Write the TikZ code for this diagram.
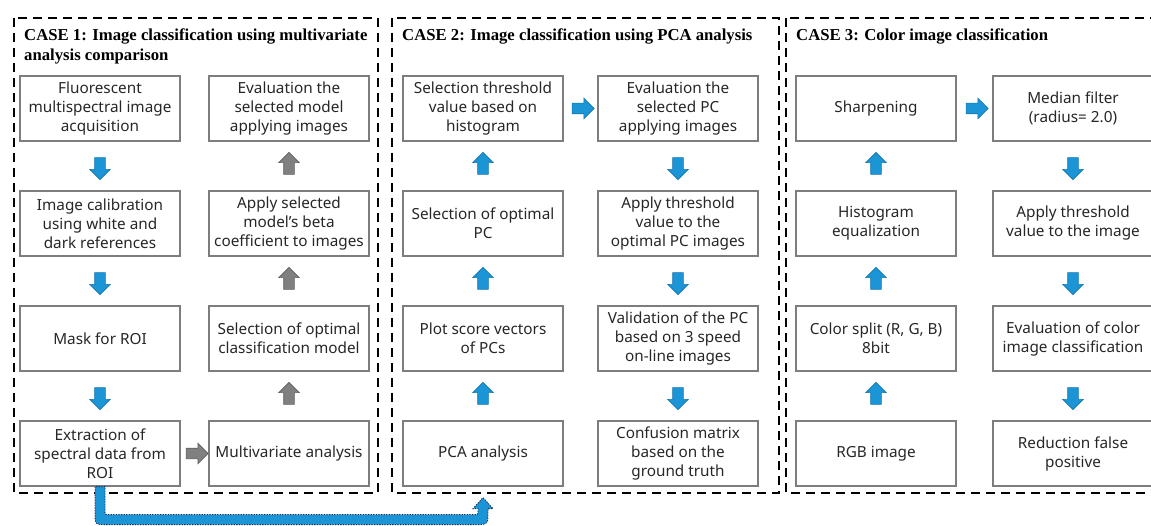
\documentclass[tikz,border=0pt]{standalone}
\usepackage{fontspec}
\setmainfont{Noto Sans}
\newfontfamily\titlefont{Liberation Serif}
\usetikzlibrary{shapes.arrows,calc}
\definecolor{arrblue}{RGB}{27,149,214}
\definecolor{arrblueD}{RGB}{22,118,175}
\definecolor{arrgray}{RGB}{128,128,128}
\definecolor{boxgray}{RGB}{125,125,125}
\definecolor{dotnavy}{RGB}{25,45,90}
\tikzset{
  stepbox/.style={draw=boxgray, line width=1.3pt, minimum width=160pt, minimum height=65pt,
    align=center, inner sep=0pt, text=black!85, font=\fontsize{15.3}{19}\selectfont},
  casebox/.style={draw=black, line width=2.6pt, dash pattern=on 9pt off 6pt},
  blk/.style={single arrow, minimum width=20pt, single arrow head extend=5pt,
    minimum height=22pt, inner xsep=0pt, inner ysep=5pt, line width=0.6pt},
  bluearr/.style={blk, fill=arrblue, draw=arrblueD},
  grayarr/.style={blk, fill=arrgray, draw=arrgray!75!black},
  casetitle/.style={anchor=base west, inner sep=0pt, align=left,
    font=\titlefont\bfseries\fontsize{16.7}{19.5}\selectfont},
  conn/.style={fill=arrblue, draw=dotnavy, line width=0.9pt, dash pattern=on 1.3pt off 1.3pt},
}
\begin{document}
\begin{tikzpicture}[x=1pt,y=-1pt]
\useasboundingbox (0,0) rectangle (1151,526);
\clip (0,0) rectangle (1151,526);

% case frames
\draw[casebox] (14,18) rectangle (378,493);
\draw[casebox] (392,18) rectangle (779,493);
\draw[casebox] (786,18) rectangle (1165,493);

% titles (base anchor = baseline of last line)
\node[casetitle] (t1) at (24,60.5) {CASE 1: Image classification using multivariate\\analysis comparison};
\node[casetitle] (t2) at (402,41) {CASE 2: Image classification using PCA analysis};
\node[casetitle] (t3) at (796,41) {CASE 3: Color image classification};

% CASE 1 boxes
\node[stepbox] (c1l1) at (100,108.5) {Fluorescent\\multispectral image\\acquisition};
\node[stepbox] (c1l2) at (100,223.5) {Image calibration\\using white and\\dark references};
\node[stepbox] (c1l3) at (100,338.5) {Mask for ROI};
\node[stepbox] (c1l4) at (100,453.5) {Extraction of\\spectral data from\\ROI};
\node[stepbox] (c1r1) at (289,108.5) {Evaluation the\\selected model\\applying images};
\node[stepbox] (c1r2) at (289,223.5) {Apply selected\\model's beta\\coefficient to images};
\node[stepbox] (c1r3) at (289,338.5) {Selection of optimal\\classification model};
\node[stepbox] (c1r4) at (289,453.5) {Multivariate analysis};

% CASE 2 boxes
\node[stepbox] (c2l1) at (483,108.5) {Selection threshold\\value based on\\histogram};
\node[stepbox] (c2l2) at (483,223.5) {Selection of optimal\\PC};
\node[stepbox] (c2l3) at (483,338.5) {Plot score vectors\\of PCs};
\node[stepbox] (c2l4) at (483,453.5) {PCA analysis};
\node[stepbox] (c2r1) at (678,108.5) {Evaluation the\\selected PC\\applying images};
\node[stepbox] (c2r2) at (678,223.5) {Apply threshold\\value to the\\optimal PC images};
\node[stepbox] (c2r3) at (678,338.5) {Validation of the PC\\based on 3 speed\\on-line images};
\node[stepbox] (c2r4) at (678,453.5) {Confusion matrix\\based on the\\ground truth};

% CASE 3 boxes
\node[stepbox] (c3l1) at (876,108.5) {Sharpening};
\node[stepbox] (c3l2) at (876,223.5) {Histogram\\equalization};
\node[stepbox] (c3l3) at (876,338.5) {Color split (R, G, B)\\8bit};
\node[stepbox] (c3l4) at (876,453.5) {RGB image};
\node[stepbox] (c3r1) at (1073,108.5) {Median filter\\(radius= 2.0)};
\node[stepbox] (c3r2) at (1073,223.5) {Apply threshold\\value to the image};
\node[stepbox] (c3r3) at (1073,338.5) {Evaluation of color\\image classification};
\node[stepbox] (c3r4) at (1073,453.5) {Reduction false\\positive};

% CASE 1 arrows
\node[bluearr, rotate=-90] (a1d1) at ($(c1l1.south)!0.5!(c1l2.north)$) {};
\node[bluearr, rotate=-90] (a1d2) at ($(c1l2.south)!0.5!(c1l3.north)$) {};
\node[bluearr, rotate=-90] (a1d3) at ($(c1l3.south)!0.5!(c1l4.north)$) {};
\node[grayarr] (a1h) at ($(c1l4.east)!0.5!(c1r4.west)$) {};
\node[grayarr, rotate=90] (a1u3) at ($(c1r4.north)!0.5!(c1r3.south)$) {};
\node[grayarr, rotate=90] (a1u2) at ($(c1r3.north)!0.5!(c1r2.south)$) {};
\node[grayarr, rotate=90] (a1u1) at ($(c1r2.north)!0.5!(c1r1.south)$) {};

% CASE 2 arrows
\node[bluearr, rotate=90] (a2u3) at ($(c2l4.north)!0.5!(c2l3.south)$) {};
\node[bluearr, rotate=90] (a2u2) at ($(c2l3.north)!0.5!(c2l2.south)$) {};
\node[bluearr, rotate=90] (a2u1) at ($(c2l2.north)!0.5!(c2l1.south)$) {};
\node[bluearr] (a2h) at ($(c2l1.east)!0.5!(c2r1.west)$) {};
\node[bluearr, rotate=-90] (a2d1) at ($(c2r1.south)!0.5!(c2r2.north)$) {};
\node[bluearr, rotate=-90] (a2d2) at ($(c2r2.south)!0.5!(c2r3.north)$) {};
\node[bluearr, rotate=-90] (a2d3) at ($(c2r3.south)!0.5!(c2r4.north)$) {};

% CASE 3 arrows
\node[bluearr, rotate=90] (a3u3) at ($(c3l4.north)!0.5!(c3l3.south)$) {};
\node[bluearr, rotate=90] (a3u2) at ($(c3l3.north)!0.5!(c3l2.south)$) {};
\node[bluearr, rotate=90] (a3u1) at ($(c3l2.north)!0.5!(c3l1.south)$) {};
\node[bluearr] (a3h) at ($(c3l1.east)!0.5!(c3r1.west)$) {};
\node[bluearr, rotate=-90] (a3d1) at ($(c3r1.south)!0.5!(c3r2.north)$) {};
\node[bluearr, rotate=-90] (a3d2) at ($(c3r2.south)!0.5!(c3r3.north)$) {};
\node[bluearr, rotate=-90] (a3d3) at ($(c3r3.south)!0.5!(c3r4.north)$) {};

% connector from CASE 1 to CASE 2 (thick block arrow)
\coordinate (cs) at (c1l4.south);
\coordinate (ct) at ([yshift=-11pt]c2l4.south);
\draw[conn] ($(cs)+(-5,0)$) -- ($(cs)+(-5,26)$)
  .. controls ($(cs)+(-5,38)$) and ($(cs)+(-5,38)$) .. ($(cs)+(7,38)$)
  -- ($(ct)+(-9,27)$)
  .. controls ($(ct)+(5,27)$) and ($(ct)+(5,27)$) .. ($(ct)+(5,13)$)
  -- ($(ct)+(5,11)$) -- ($(ct)+(10,11)$) -- (ct) -- ($(ct)+(-10,11)$)
  -- ($(ct)+(-5,11)$) -- ($(ct)+(-5,13)$)
  .. controls ($(ct)+(-5,17)$) and ($(ct)+(-5,17)$) .. ($(ct)+(-9,17)$)
  -- ($(cs)+(9,28)$)
  .. controls ($(cs)+(5,28)$) and ($(cs)+(5,28)$) .. ($(cs)+(5,24)$)
  -- ($(cs)+(5,0)$) -- cycle;
\end{tikzpicture}
\end{document}
